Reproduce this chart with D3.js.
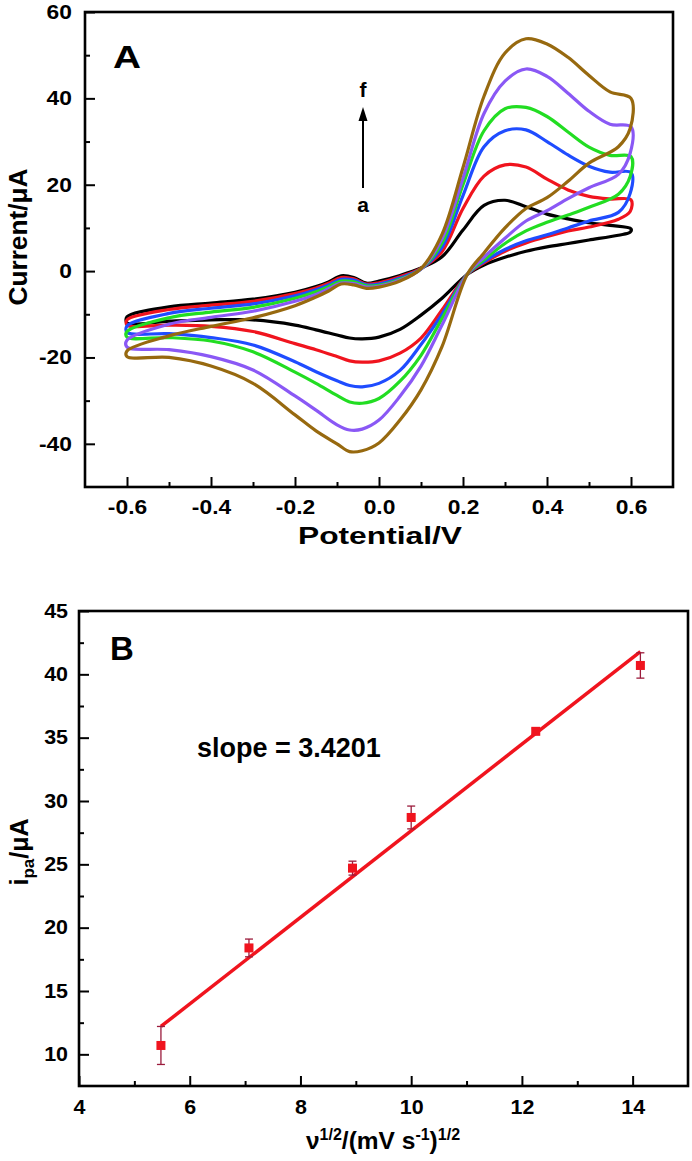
<!DOCTYPE html>
<html><head><meta charset="utf-8">
<script src="https://cdn.jsdelivr.net/npm/d3@7"></script>
<style>
body{margin:0;background:#fff}
svg text{font-family:"Liberation Sans",Arial,sans-serif;font-weight:bold;fill:#000}
</style>
</head><body>
<svg id="c" width="692" height="1161"></svg>
<script>
// ---------- Panel A data (cyclic voltammograms, curves a..f) ----------
const potentialFwd = [-0.6,-0.5,-0.4,-0.3,-0.2,-0.15,-0.12,-0.09,-0.06,-0.03,0.0,0.05,0.1,0.15,0.2,0.25,0.3,0.35,0.4,0.45,0.5,0.55,0.6];
const potentialRev = [0.598,0.57,0.5,0.45,0.4,0.35,0.3,0.25,0.21,0.15,0.1,0.05,0.0,-0.04,-0.07,-0.1,-0.15,-0.2,-0.3,-0.4,-0.5,-0.6];

const fwdA = [-10.6,-8.3,-7.4,-6.5,-4.9,-3.6,-2.5,-1.1,-1.5,-2.8,-2.3,-1.0,0.7,3.3,9.5,15.2,16.4,14.9,13.2,12.1,11.2,10.6,9.8];
const fwdB = [-11.3,-8.9,-7.9,-7.0,-5.2,-3.9,-2.8,-1.5,-1.8,-3.0,-2.7,-1.3,0.6,4.5,14.5,22.0,24.6,24.1,21.3,18.8,17.3,16.7,16.5];
const fwdC = [-12.7,-9.8,-8.6,-7.6,-5.7,-4.3,-3.2,-1.9,-2.1,-3.2,-3.0,-1.6,0.5,5.5,17.5,28.8,32.5,32.7,30.0,26.9,24.3,22.9,22.8];
const fwdD = [-14.0,-10.8,-9.5,-8.4,-6.3,-4.8,-3.6,-2.3,-2.5,-3.4,-3.3,-1.9,0.5,6.5,20.0,32.5,37.6,37.9,35.8,32.2,28.7,26.8,26.5];
const fwdE = [-16.0,-12.3,-10.7,-9.3,-7.0,-5.4,-4.1,-2.8,-2.9,-3.7,-3.5,-2.1,0.5,7.5,21.5,36.5,44.0,46.8,45.1,41.2,37.0,34.0,33.4];
const fwdF = [-18.5,-15.0,-12.8,-10.8,-8.0,-6.0,-4.6,-3.0,-3.2,-4.0,-3.7,-2.3,0.6,8.5,24.0,40.5,50.5,53.8,52.6,49.5,45.3,41.5,40.0];

const revA = [9.0,8.3,7.2,6.4,5.6,4.6,3.2,1.4,-0.8,-6.3,-10.2,-13.5,-15.3,-15.7,-15.5,-14.8,-13.6,-12.5,-11.3,-11.3,-11.6,-12.0];
const revB = [13.8,12.0,10.2,9.3,8.0,6.5,4.6,1.9,-0.8,-9.0,-15.5,-19.0,-20.8,-21.1,-20.8,-19.8,-18.2,-16.8,-14.0,-12.8,-12.5,-12.5];
const revC = [18.0,13.6,11.6,10.0,8.4,7.0,5.0,2.2,-0.8,-10.0,-17.0,-23.0,-26.0,-26.8,-26.5,-25.4,-23.3,-21.0,-17.1,-15.4,-14.5,-14.2];
const revD = [21.9,17.8,14.8,13.0,11.3,9.3,6.4,2.6,-0.8,-11.0,-19.5,-25.5,-29.5,-30.6,-30.3,-28.8,-26.0,-23.4,-18.7,-16.2,-15.4,-15.3];
const revE = [27.3,22.4,19.3,16.8,14.0,11.6,7.6,3.2,-0.8,-12.5,-22.0,-29.0,-34.5,-36.6,-36.8,-35.6,-32.2,-28.9,-22.9,-19.8,-18.2,-17.6];
const revF = [33.0,28.8,25.0,20.8,17.0,14.5,10.0,4.2,-0.8,-17.5,-27.5,-34.5,-39.8,-41.6,-41.8,-40.0,-37.0,-33.3,-26.0,-22.0,-20.0,-19.8];

const curveNames = ["a","b","c","d","e","f"];
const curveColors = ["#000000","#f0141e","#1f4cff","#22dd22","#8a58f5","#97690f"];

const xTicksA = [-0.6,-0.4,-0.2,0.0,0.2,0.4,0.6];
const yTicksA = [-40,-20,0,20,40,60];

// ---------- Panel B data ----------
const sqrtScanRate = [5.48,7.07,8.94,10.0,12.25,14.14];
const ipa = [10.7,18.4,24.7,28.7,35.5,40.7];
const ipaErr = [1.5,0.7,0.55,0.9,0.2,1.0];
const fitX = [5.48,14.14];
const fitY = [12.2,41.8];
const xTicksB = [4,6,8,10,12,14];
const yTicksB = [10,15,20,25,30,35,40,45];

const svg = d3.select("#c");

function styleAxis(g, fs, sx){
  g.select(".domain").remove();
  g.selectAll(".tick line").attr("stroke","#000").attr("stroke-width",2);
  g.selectAll(".tick text").style("font-size",fs+"px")
    .attr("transform",`scale(${sx},1)`)
    .text(function(){return this.textContent.replace("−","-");});
}

// ================= Panel A =================
const xA = d3.scaleLinear().domain([-0.7,0.7]).range([85,673]);
const yA = d3.scaleLinear().domain([-50,60]).range([487,12]);
const gA = svg.append("g");

gA.append("g").attr("transform","translate(0,487)")
  .call(d3.axisBottom(xA).tickValues(d3.range(-0.5,0.6,0.2)).tickSize(-5).tickFormat(""))
  .call(g=>styleAxis(g,20,1));
gA.append("g").attr("transform","translate(0,487)")
  .call(d3.axisBottom(xA).tickValues(xTicksA).tickSize(-10).tickPadding(13).tickFormat(d3.format(".1f")))
  .call(g=>styleAxis(g,20,1.14));
gA.append("g").attr("transform","translate(85,0)")
  .call(d3.axisLeft(yA).tickValues([-30,-10,10,30,50]).tickSize(-5).tickFormat(""))
  .call(g=>styleAxis(g,20,1));
gA.append("g").attr("transform","translate(85,0)")
  .call(d3.axisLeft(yA).tickValues(yTicksA).tickSize(-10).tickPadding(11.5).tickFormat(d3.format("d")))
  .call(g=>styleAxis(g,20,1.14));

const lineA = d3.line().x(d=>xA(d[0])).y(d=>yA(d[1])).curve(d3.curveCatmullRomClosed.alpha(0.5));
const fwds = [fwdA,fwdB,fwdC,fwdD,fwdE,fwdF];
const revs = [revA,revB,revC,revD,revE,revF];
fwds.forEach((f,i)=>{
  const pts = potentialFwd.map((e,j)=>[e,f[j]]).concat(potentialRev.map((e,j)=>[e,revs[i][j]]));
  gA.append("path").attr("d",lineA(pts)).attr("fill","none")
    .attr("stroke",curveColors[i]).attr("stroke-width",3.2).attr("stroke-linejoin","round");
});

gA.append("rect").attr("x",85).attr("y",12).attr("width",588).attr("height",475)
  .attr("fill","none").attr("stroke","#000").attr("stroke-width",2.6);

gA.append("text").attr("x",113).attr("y",68).style("font-size","32px").attr("textLength",28).attr("lengthAdjust","spacingAndGlyphs").text("A");
// arrow a -> f
gA.append("line").attr("x1",363).attr("x2",363).attr("y1",188).attr("y2",118).attr("stroke","#000").attr("stroke-width",2);
gA.append("path").attr("d","M363,107 L358.5,121 L367.5,121 Z").attr("fill","#000");
gA.append("text").attr("x",363).attr("y",97).attr("text-anchor","middle").style("font-size","21px").text(curveNames[5]);
gA.append("text").attr("x",363).attr("y",212).attr("text-anchor","middle").style("font-size","21px").text(curveNames[0]);

gA.append("text").attr("transform","translate(27,237) rotate(-90)").attr("text-anchor","middle")
  .style("font-size","25px").attr("textLength",137).attr("lengthAdjust","spacingAndGlyphs").text("Current/μA");
gA.append("text").attr("x",380).attr("y",544).attr("text-anchor","middle")
  .style("font-size","23px").attr("textLength",164).attr("lengthAdjust","spacingAndGlyphs").text("Potential/V");

// ================= Panel B =================
const xB = d3.scaleLinear().domain([4,15]).range([79,688]);
const yB = d3.scaleLinear().domain([7.5,45]).range([1086,611]);
const gB = svg.append("g");

gB.append("g").attr("transform","translate(0,1086)")
  .call(d3.axisBottom(xB).tickValues([5,7,9,11,13]).tickSize(-5).tickFormat(""))
  .call(g=>styleAxis(g,19,1));
gB.append("g").attr("transform","translate(0,1086)")
  .call(d3.axisBottom(xB).tickValues(xTicksB).tickSize(-10).tickPadding(14).tickFormat(d3.format("d")))
  .call(g=>styleAxis(g,19.5,1.1));
gB.append("g").attr("transform","translate(79,0)")
  .call(d3.axisLeft(yB).tickValues([12.5,17.5,22.5,27.5,32.5,37.5,42.5]).tickSize(-5).tickFormat(""))
  .call(g=>styleAxis(g,19,1));
gB.append("g").attr("transform","translate(79,0)")
  .call(d3.axisLeft(yB).tickValues(yTicksB).tickSize(-10).tickPadding(10).tickFormat(d3.format("d")))
  .call(g=>styleAxis(g,19.5,1.1));

// fit line
gB.append("line").attr("x1",xB(fitX[0])).attr("y1",yB(fitY[0])).attr("x2",xB(fitX[1])).attr("y2",yB(fitY[1]))
  .attr("stroke","#f0141e").attr("stroke-width",3.5);

// error bars
const eb = gB.append("g").attr("stroke","#9b1b3c").attr("stroke-width",1.3);
sqrtScanRate.forEach((x,i)=>{
  const cx = xB(x), t = yB(ipa[i]+ipaErr[i]), b = yB(ipa[i]-ipaErr[i]);
  eb.append("line").attr("x1",cx).attr("x2",cx).attr("y1",t).attr("y2",b);
  eb.append("line").attr("x1",cx-4).attr("x2",cx+4).attr("y1",t).attr("y2",t);
  eb.append("line").attr("x1",cx-4).attr("x2",cx+4).attr("y1",b).attr("y2",b);
});
// markers
gB.selectAll("rect.pt").data(sqrtScanRate).enter().append("rect").attr("class","pt")
  .attr("x",d=>xB(d)-4.5).attr("y",(d,i)=>yB(ipa[i])-4.5).attr("width",9).attr("height",9)
  .attr("fill","#f0141e");

gB.append("rect").attr("x",79).attr("y",611).attr("width",609).attr("height",475)
  .attr("fill","none").attr("stroke","#000").attr("stroke-width",2.6);

gB.append("text").attr("x",110).attr("y",660).style("font-size","33px").text("B");
gB.append("text").attr("x",197).attr("y",757).style("font-size","27px").text("slope = 3.4201");

// y title
const yt = gB.append("text").attr("transform","translate(28,852) rotate(-90)").attr("text-anchor","middle").style("font-size","25px");
yt.append("tspan").text("i");
yt.append("tspan").attr("dy",6).style("font-size","17px").text("pa");
yt.append("tspan").attr("dy",-6).text("/μA");
// x title
const xt = gB.append("text").attr("x",383).attr("y",1149).attr("text-anchor","middle").style("font-size","24.5px");
xt.append("tspan").text("ν");
xt.append("tspan").attr("dy",-9).style("font-size","16px").text("1/2");
xt.append("tspan").attr("dy",9).text("/(mV s");
xt.append("tspan").attr("dy",-9).style("font-size","16px").text("-1");
xt.append("tspan").attr("dy",9).text(")");
xt.append("tspan").attr("dy",-9).style("font-size","16px").text("1/2");
</script>
</body></html>
